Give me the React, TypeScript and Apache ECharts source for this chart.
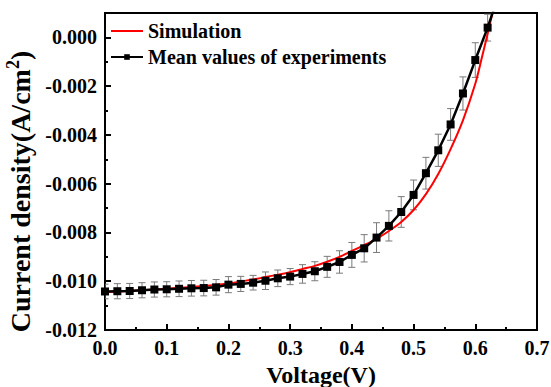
import React, { useEffect, useRef } from 'react';
import * as echarts from 'echarts';

const FONT = '"Liberation Serif", "Times New Roman", Times, serif';

// Experimental mean values (V, A/cm^2) and their error half-widths
const expVoltage = [
  0.00, 0.02, 0.04, 0.06, 0.08, 0.10, 0.12, 0.14, 0.16, 0.18,
  0.20, 0.22, 0.24, 0.26, 0.28, 0.30, 0.32, 0.34, 0.36, 0.38,
  0.40, 0.42, 0.44, 0.46, 0.48, 0.50, 0.52, 0.54, 0.56, 0.58,
  0.60, 0.62, 0.64,
];
const expCurrent = [
  -0.01042, -0.01041, -0.01040, -0.01037, -0.01034, -0.01033, -0.01031, -0.01029, -0.01028, -0.01025,
  -0.01014, -0.01011, -0.01006, -0.00998, -0.00988, -0.00981, -0.00970, -0.00959, -0.00941, -0.00921,
  -0.00892, -0.00865, -0.00821, -0.00773, -0.00716, -0.00646, -0.00557, -0.00463, -0.00357, -0.00230,
  -0.00093, 0.00040, 0.00190,
];
const expError = [
  0.00030, 0.00031, 0.00031, 0.00031, 0.00031, 0.00031, 0.00032, 0.00032, 0.00032, 0.00032,
  0.00033, 0.00031, 0.00030, 0.00036, 0.00034, 0.00033, 0.00038, 0.00039, 0.00043, 0.00046,
  0.00051, 0.00056, 0.00061, 0.00062, 0.00063, 0.00061, 0.00065, 0.00066, 0.00065, 0.00068,
  0.00071, 0.00055, 0.00060,
];

// Simulation curve
const simVoltage = [
  0.00, 0.05, 0.10, 0.15, 0.20, 0.22, 0.24, 0.26, 0.28, 0.30,
  0.32, 0.34, 0.36, 0.38, 0.40, 0.42, 0.44, 0.46, 0.48, 0.50,
  0.52, 0.54, 0.56, 0.58, 0.60, 0.61, 0.62, 0.63,
];
const simCurrent = [
  -0.01045, -0.01038, -0.01031, -0.01022, -0.01009, -0.01001, -0.00993, -0.00983, -0.00973, -0.00963,
  -0.00950, -0.00937, -0.00920, -0.00900, -0.00876, -0.00852, -0.00826, -0.00794, -0.00757, -0.00708,
  -0.00643, -0.00560, -0.00458, -0.00340, -0.00190, -0.00090, 0.00015, 0.00125,
];

const seriesNames = ['Simulation', 'Mean values of experiments'];

export default function App() {
  const ref = useRef<HTMLDivElement>(null);
  useEffect(() => {
    if (!ref.current) return;
    const chart = echarts.init(ref.current, undefined, { renderer: 'svg' });
    const labelStyle = { fontFamily: FONT, fontWeight: 'bold' as const, fontSize: 20, color: '#000' };
    const option: any = {
      animation: false,
      grid: {
        left: 105, right: 14, top: 13, bottom: 57,
        show: true, borderColor: '#000', borderWidth: 2,
        containLabel: false, outerBoundsMode: 'none',
      },
      legend: {
        data: [
          { name: seriesNames[0], itemStyle: { opacity: 0 } },
          { name: seriesNames[1] },
        ],
        orient: 'vertical',
        left: 105,
        top: 16,
        padding: 5,
        itemWidth: 32,
        itemHeight: 7,
        itemGap: 6,
        selectedMode: false,
        textStyle: { fontFamily: FONT, fontWeight: 'bold', fontSize: 20, color: '#000' },
      },
      xAxis: {
        type: 'value',
        min: 0,
        max: 0.7,
        interval: 0.1,
        name: 'Voltage(V)',
        nameLocation: 'middle',
        nameGap: 27,
        nameTextStyle: { fontFamily: FONT, fontWeight: 'bold', fontSize: 24, color: '#000' },
        axisLine: { show: true, onZero: false, lineStyle: { color: '#000', width: 2 } },
        axisTick: { show: true, inside: true, length: 6, lineStyle: { color: '#000', width: 2 } },
        minorTick: { show: true, splitNumber: 2, length: 3, lineStyle: { color: '#000', width: 2 } },
        axisLabel: { ...labelStyle, margin: 8, formatter: (v: number) => v.toFixed(1) },
        splitLine: { show: false },
        minorSplitLine: { show: false },
      },
      yAxis: [
        {
          type: 'value',
          min: -0.012,
          max: 0.001,
          interval: 0.002,
          name: '{a|Current density(A/cm}{s|2}{a|)}',
          nameLocation: 'middle',
          nameGap: 55,
          nameTextStyle: {
            padding: [0, 40, 0, 0],
            rich: {
              a: { fontFamily: FONT, fontWeight: 'bold', fontSize: 28, color: '#000' },
              s: { fontFamily: FONT, fontWeight: 'bold', fontSize: 18, color: '#000', verticalAlign: 'top', padding: [0, 0, 14, 0] },
            },
          },
          axisLine: { show: true, onZero: false, lineStyle: { color: '#000', width: 2 } },
          axisTick: { show: true, inside: true, length: 6, lineStyle: { color: '#000', width: 2 } },
          minorTick: { show: false },
          axisLabel: {
            ...labelStyle,
            margin: 8,
            showMaxLabel: false,
            formatter: (v: number) => (v > 0.0001 ? '' : v.toFixed(3)),
          },
          splitLine: { show: false },
        },
        {
          type: 'value',
          min: -0.012,
          max: 0.001,
          interval: 0.001,
          position: 'left',
          axisLine: { show: false },
          axisTick: { show: true, inside: true, length: 3, lineStyle: { color: '#000', width: 2 } },
          axisLabel: { show: false },
          splitLine: { show: false },
        },
      ],
      series: [
        {
          name: 'errorbars',
          type: 'custom',
          silent: true,
          clip: true,
          z: 1,
          data: expVoltage.map((v, i) => [v, expCurrent[i], expError[i]]),
          renderItem: (params: any, api: any) => {
            const x = api.value(0);
            const y = api.value(1);
            const e = api.value(2);
            const hi = api.coord([x, y + e]);
            const lo = api.coord([x, y - e]);
            const hw = 3.5;
            const style = { stroke: '#7a7a7a', lineWidth: 1, fill: null };
            return {
              type: 'group',
              children: [
                { type: 'line', shape: { x1: hi[0], y1: hi[1], x2: lo[0], y2: lo[1] }, style },
                { type: 'line', shape: { x1: hi[0] - hw, y1: hi[1], x2: hi[0] + hw, y2: hi[1] }, style },
                { type: 'line', shape: { x1: lo[0] - hw, y1: lo[1], x2: lo[0] + hw, y2: lo[1] }, style },
              ],
            };
          },
        },
        {
          name: seriesNames[0],
          type: 'line',
          smooth: 0.3,
          showSymbol: false,
          symbol: 'none',
          clip: true,
          z: 2,
          data: simVoltage.map((v, i) => [v, simCurrent[i]]),
          lineStyle: { color: '#ff0000', width: 2 },
          itemStyle: { color: '#ff0000' },
        },
        {
          name: seriesNames[1],
          type: 'line',
          symbol: 'rect',
          symbolSize: 8,
          clip: true,
          z: 3,
          data: expVoltage.map((v, i) => [v, expCurrent[i]]),
          lineStyle: { color: '#000', width: 2.5 },
          itemStyle: { color: '#000' },
        },
      ],
    };
    chart.setOption(option);
    return () => chart.dispose();
  }, []);
  return <div ref={ref} style={{ width: 551, height: 387, position: 'absolute', left: 0, top: 0 }} />;
}
